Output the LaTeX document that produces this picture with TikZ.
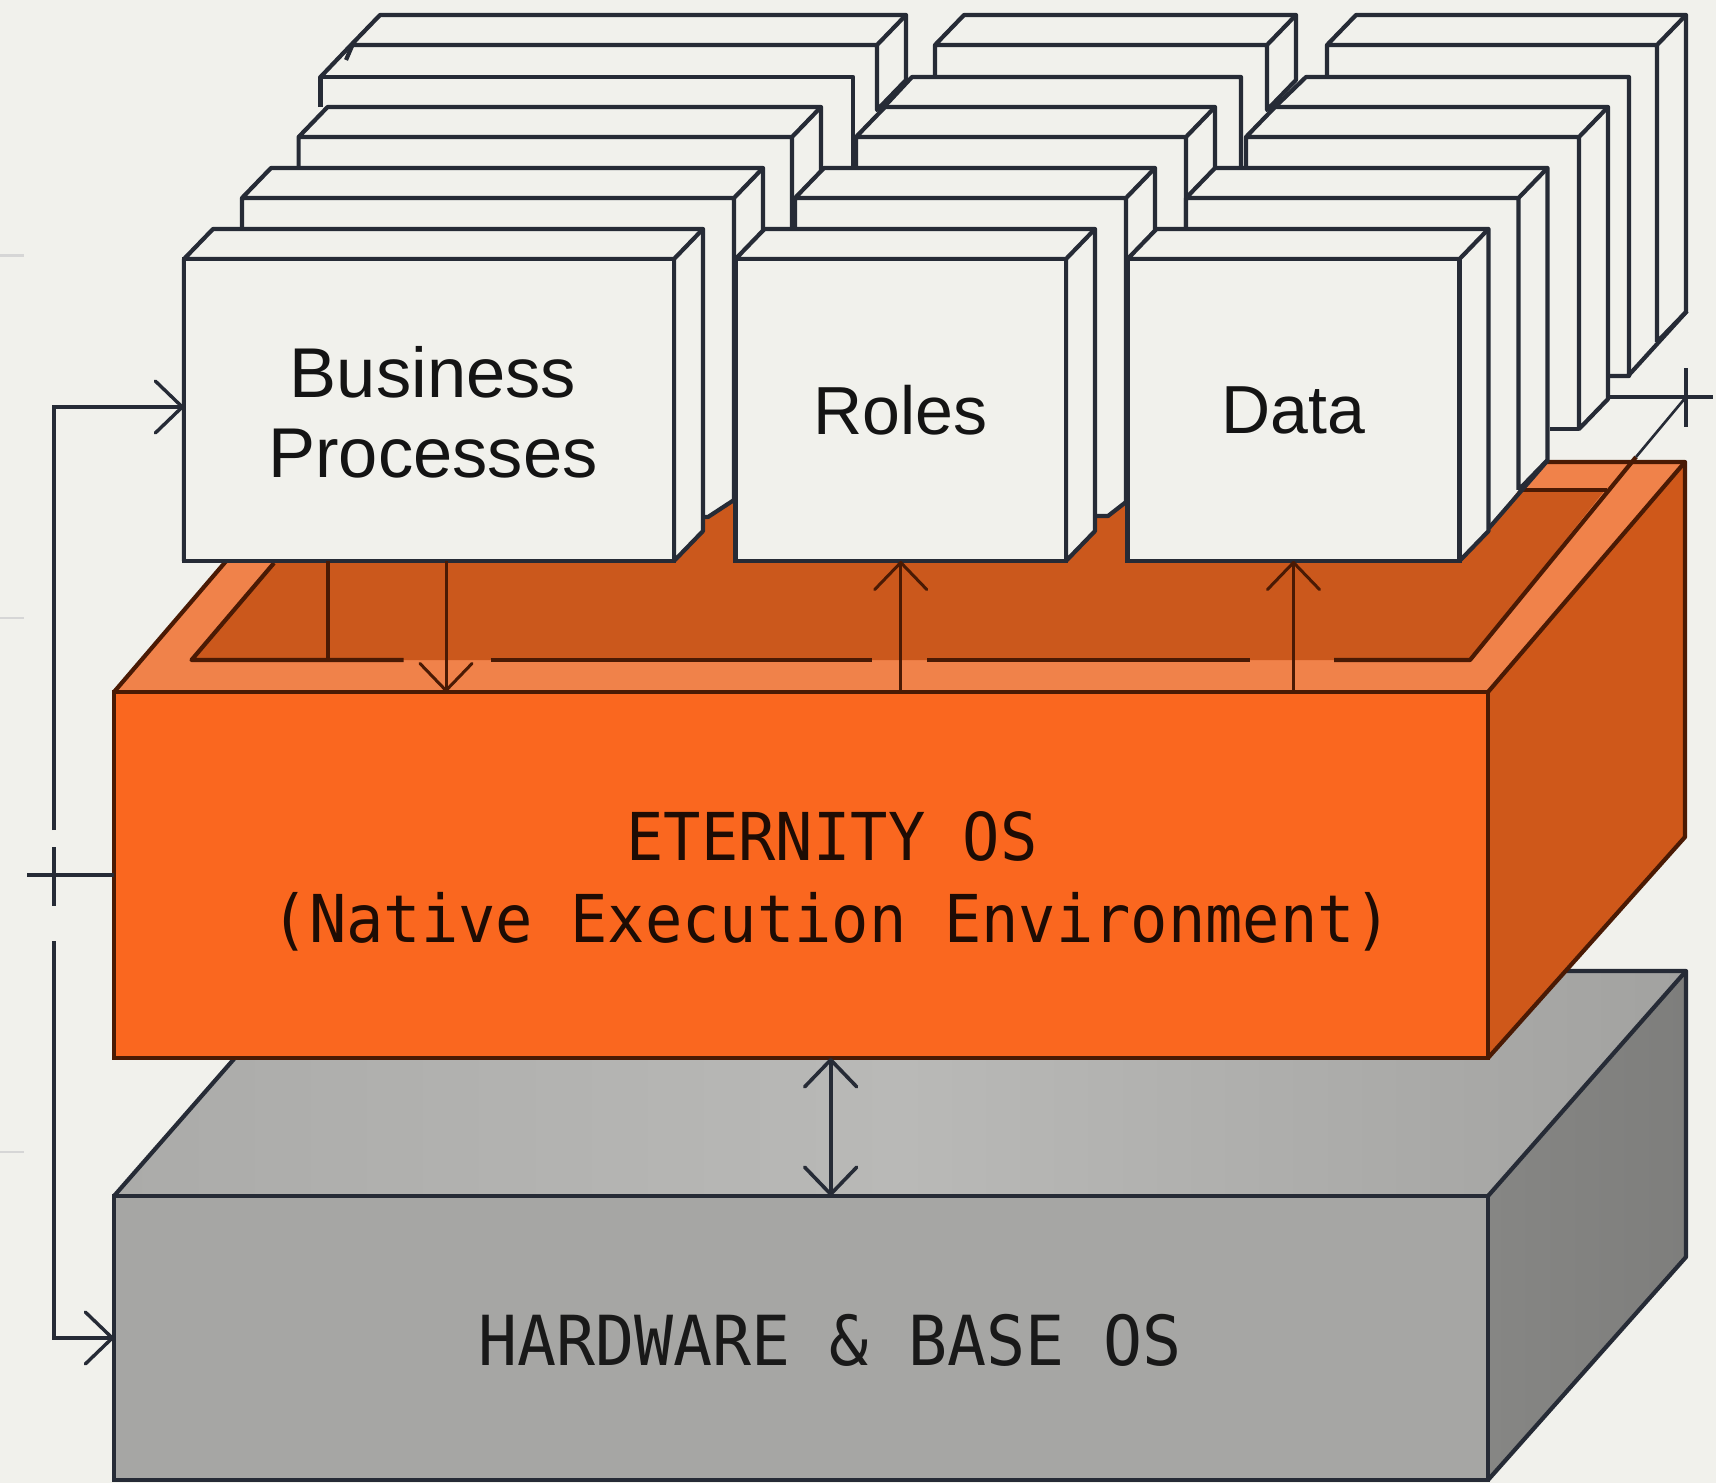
\documentclass[tikz,border=0pt]{standalone}
\usepackage{fontspec}
\setmainfont{Liberation Sans}
\newfontfamily\monofam[FakeStretch=0.94]{DejaVu Sans Mono}
\usetikzlibrary{arrows.meta}
\definecolor{paper}{HTML}{F1F1EC}
\definecolor{ink}{HTML}{262B36}
\definecolor{burnt}{HTML}{4A1A04}
\definecolor{orfront}{HTML}{FA671F}
\definecolor{orrim}{HTML}{F0824A}
\definecolor{orin}{HTML}{CB581C}
\definecolor{orside}{HTML}{CF581A}
\definecolor{gyfront}{HTML}{A6A6A4}
\definecolor{gyside}{HTML}{868684}
\tikzset{
  edge/.style={draw=ink,line width=4.2pt,line join=round},
  sheet/.style={fill=paper},
  facebox/.style={draw=ink,line width=4.2pt,fill=paper,inner sep=0pt,outer sep=0pt,
    font=\fontsize{68}{80}\selectfont,text=black!92,align=center},
  blockface/.style={line width=4.2pt,inner sep=0pt,outer sep=0pt},
  monolabel/.style={font=\monofam\fontsize{66}{82}\selectfont,align=center,inner sep=0pt},
  conn/.style={draw=ink,line width=3.4pt},
  headd/.style={-{Straight Barb[length=27pt,width=52pt,round]}},
  headb/.style={{Straight Barb[length=27pt,width=52pt,round]}-{Straight Barb[length=27pt,width=52pt,round]}},
  tick/.style={draw=black!16,line width=2.4pt},
}
\newcommand{\layerbox}[4]{%
  \path[sheet] (#1,#4) -- (#1,#3) -- ({#1+29},{#3-30}) -- ({#2+29},{#3-30}) -- ({#2+29},{#4-30}) -- (#2,#4) -- cycle;
  \draw[edge] (#1,#4) -- (#1,#3) -- ({#1+29},{#3-30}) -- ({#2+29},{#3-30}) -- ({#2+29},{#4-30}) -- (#2,#4) -- (#2,#3) -- (#1,#3);
  \draw[edge] (#2,#3) -- ({#2+29},{#3-30});
}
\begin{document}
\begin{tikzpicture}[x=1pt,y=-1pt]
\useasboundingbox (0,0) rectangle (1716,1483);
\fill[paper] (0,0) rectangle (1716,1483);
% faint marks at the left margin
\draw[tick] (0,255.6) -- (24,255.6);
\draw[tick] (0,618) -- (24,618);
\draw[tick] (0,1151.7) -- (24,1151.7);

% --- grey block
\definecolor{gyl}{HTML}{ABABA9}
\definecolor{gym}{HTML}{B9B9B7}
\definecolor{gyr}{HTML}{A2A2A0}
\shade[left color=gyl,right color=gyr,middle color=gym] (114,1196) -- (311,971) -- (1686,971) -- (1488,1196) -- cycle;
\shade[left color=gyside,right color=gyside!94!black] (1488,1196) -- (1686,971) -- (1686,1257) -- (1488,1480) -- cycle;
\draw[draw=ink,blockface,line join=round] (114,1196) -- (311,971) -- (1686,971) -- (1686,1257) -- (1488,1480);
\draw[draw=ink,blockface] (1686,971) -- (1488,1196);
\node[draw=ink,fill=gyfront,blockface,minimum width=1374pt,minimum height=284pt] (hw) at (801,1338) {};
\node[monolabel,text=black!90,font=\monofam\fontsize{69}{82}\selectfont] (hwText) at (830,1340) {HARDWARE \& BASE OS};

% --- orange block
\fill[orrim] (114,692) -- (311,462) -- (1685,462) -- (1488,692) -- cycle;
\fill[orin] (191.5,660) -- (336,490) -- (1605,490) -- (1470,660) -- cycle;
\fill[orside] (1488,692) -- (1685,462) -- (1685,837) -- (1488,1058) -- cycle;
\draw[draw=burnt,blockface,line join=round] (114,692) -- (311,462) -- (1685,462) -- (1685,837) -- (1488,1058);
\draw[draw=burnt,blockface] (1685,462) -- (1488,692);
\node[draw=burnt,fill=orfront,blockface,minimum width=1374pt,minimum height=366pt] (eos) at (801,875) {};
\node[monolabel,text=black!88!orfront] (eosText) at (832,881) {ETERNITY OS\\(Native Execution Environment)};
% rim inner edges
\coordinate (rimline) at (0,660);
\draw[draw=burnt,line width=4.2pt,line join=round] (274,563) -- (191.5,660) -- (403.6,660);
\draw[draw=burnt,line width=4.2pt] (490.6,660) -- (871.5,660);
\draw[draw=burnt,line width=4.2pt] (927,660) -- (1249.6,660);
\draw[draw=burnt,line width=4.2pt,line join=round] (1334,660) -- (1470,660) -- (1636,457);
\draw[draw=burnt,line width=4.2pt] (1520,490) -- (1607,490);

% --- file stacks, rear to front
% rear sheets
\layerbox{1327}{1657}{45}{342}
\path[sheet] (1657,342) -- (1628,376) -- (1600,376) -- (1600,342) -- cycle;
\draw[edge] (1687,311) -- (1628,376);
\layerbox{935}{1267}{45}{110}
\path[sheet] (351,110) -- (351,45) -- (380,15) -- (906,15) -- (906,80) -- (877,110) -- cycle;
\draw[edge] (351,45) -- (380,15) -- (906,15) -- (906,80) -- (877,110) -- (877,45) -- cycle;
\draw[edge] (877,45) -- (906,15);
% fourth sheets
\path[sheet] (1275,107) -- (1306,77) -- (1629,77) -- (1629,376) -- (1275,376) -- cycle;
\draw[edge] (1275,107) -- (1306,77) -- (1629,77) -- (1629,376) -- (1609,376);
\path[sheet] (884,107) -- (912,77) -- (1241,77) -- (1241,300) -- (884,300) -- cycle;
\draw[edge] (884,107) -- (912,77) -- (1241,77) -- (1241,300);
\path[sheet] (320.5,107) -- (320.5,77) -- (853,77) -- (853,300) -- (320.5,300) -- cycle;
\draw[edge] (320.5,107) -- (320.5,77) -- (853,77) -- (853,300);
\draw[edge] (351,45) -- (320.5,77);
\draw[edge] (352,46) -- (346,60);
% third sheets
\layerbox{1246}{1579}{137}{429}
\draw[edge] (1550,429) -- (1579,429);
\layerbox{856}{1186}{137}{228}
\layerbox{298.6}{792}{137}{228}
% second sheets
\layerbox{1186}{1518.5}{198}{490}
\path[sheet] (1300,490) -- (1518.5,490) -- (1489,528) -- (1300,528) -- cycle;
\draw[edge] (1548,460) -- (1489,528);
\layerbox{795}{1126}{198}{502}
\path[sheet] (795,502) -- (1126,502) -- (1108,516) -- (795,516) -- cycle;
\draw[edge] (1090,516) -- (1108,516) -- (1126,502);
\layerbox{242}{734}{198}{500}
\path[sheet] (242,500) -- (734,500) -- (708,517) -- (242,517) -- cycle;
\draw[edge] (690,517) -- (708,517) -- (734,500);
% front sheets
\layerbox{1127.5}{1459.5}{259}{561}
\layerbox{735.5}{1066}{259}{561}
\layerbox{184}{674}{259}{561}
\node[facebox,minimum width=490pt,minimum height=302pt] (bp) at (429,410) {};
\node[inner sep=0pt,font=\fontsize{70.5}{80}\selectfont,text=black!92,align=center] (bpText) at (433,412) {Business\\Processes};
\node[facebox,minimum width=330.5pt,minimum height=302pt] (roles) at (900.75,410) {Roles};
\node[facebox,minimum width=332pt,minimum height=302pt] (data) at (1293.5,410) {Data};

% --- connectors
\coordinate (dropA) at (327.7,0);
\coordinate (dropB) at (446,0);
\coordinate (linkX) at (830.7,0);
\coordinate (fbUp) at (54,830);
\coordinate (fbDown) at (54,941);
\coordinate (fbCrossA) at (54,847);
\coordinate (fbCrossB) at (54,906);
\coordinate (fbStub) at (27,875);
\coordinate (fbEntry) at (0,407);
\coordinate (crossL) at (1609,397);
\coordinate (crossR) at (1713,397);
\coordinate (crossT) at (1686,368);
\coordinate (crossB) at (1686,427);
\coordinate (crossFoot) at (1636,457);
\draw[draw=burnt,line width=3.6pt] (bp.south -| dropA) -- (dropA |- rimline);
\draw[draw=burnt,line width=3pt,headd] (bp.south -| dropB) -- (eos.north -| dropB);
\draw[draw=burnt,line width=3pt,headd] (eos.north -| roles.south) -- (roles.south);
\draw[draw=burnt,line width=3pt,headd] (eos.north -| data.south) -- (data.south);
\draw[conn,line width=3.6pt,headb] (eos.south -| linkX) -- (hw.north -| linkX);
\draw[conn,headd] (fbUp) |- (bp.west |- fbEntry);
\draw[conn,headd] (fbDown) |- (hw.west);
\draw[conn] (fbCrossA) -- (fbCrossB);
\draw[conn] (fbStub) -- (eos.west);
\draw[conn] (crossL) -- (crossR);
\draw[conn] (crossT) -- (crossB);
\draw[conn,line width=2.6pt] (crossFoot) -- (crossL -| crossT);
\end{tikzpicture}
\end{document}
